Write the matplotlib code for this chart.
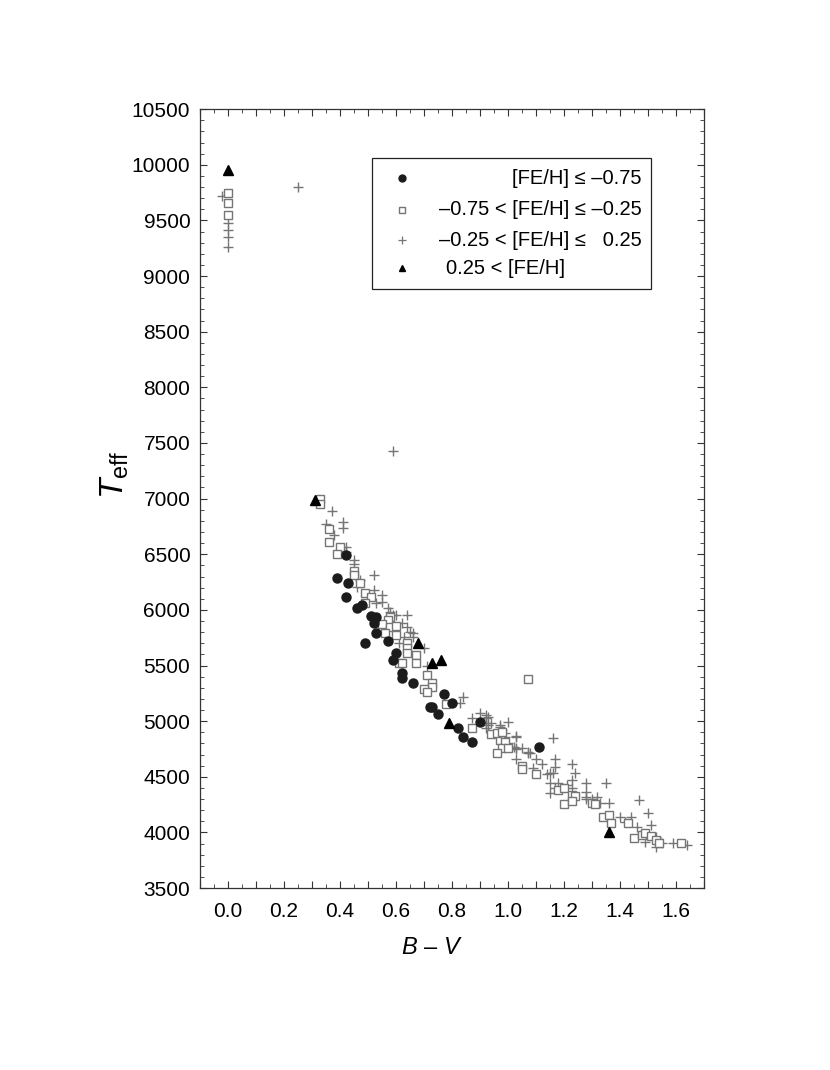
import matplotlib
matplotlib.use('Agg')
import matplotlib.pyplot as plt
import matplotlib.ticker as ticker
import matplotlib.patches as patches
import numpy as np

plt.rcParams['font.family'] = ['Liberation Sans', 'DejaVu Sans']
plt.rcParams['mathtext.fontset'] = 'custom'
plt.rcParams['mathtext.rm'] = 'Liberation Sans'
plt.rcParams['mathtext.it'] = 'Liberation Sans:italic'

# [Fe/H] <= -0.75
poor_bv = [0.42, 0.39, 0.43, 0.42, 0.46, 0.48, 0.51, 0.53, 0.52, 0.53, 0.57, 0.49, 0.60, 0.59,
           0.62, 0.62, 0.66, 0.77, 0.80, 0.72, 0.73, 0.75, 0.82, 0.84, 0.87, 0.90, 1.11]
poor_t = [6490, 6285, 6240, 6115, 6015, 6045, 5944, 5935, 5880, 5790, 5720, 5700, 5610, 5550,
          5430, 5387, 5342, 5243, 5162, 5126, 5126, 5063, 4937, 4857, 4812, 4992, 4767]

# -0.75 < [Fe/H] <= -0.25
mid_bv = [0.00, 0.00, 0.00, 1.07, 0.33, 0.33, 0.36, 0.36, 0.40, 0.39, 0.45, 0.45, 0.47, 0.49,
          0.51, 0.49, 0.58, 0.57, 0.55, 0.58, 0.60, 0.56, 0.60, 0.64, 0.64, 0.64, 0.67, 0.61,
          0.62, 0.67, 0.71, 0.73, 0.73, 0.70, 0.71, 0.78, 0.87, 0.94, 0.97, 0.99, 0.98, 1.00,
          0.96, 0.96, 0.98, 1.05, 1.05, 1.10, 1.18, 1.20, 1.23, 1.24, 1.20, 1.23, 1.30, 1.31,
          1.34, 1.36, 1.37, 1.43, 1.45, 1.48, 1.49, 1.51, 1.53, 1.54, 1.62]
mid_t = [9750, 9660, 9550, 5378, 7000, 6950, 6725, 6610, 6565, 6500, 6350, 6310, 6240, 6150,
         6115, 6060, 5935, 5908, 5872, 5845, 5854, 5790, 5773, 5700, 5656, 5610, 5595, 5520,
         5520, 5520, 5414, 5342, 5306, 5288, 5261, 5153, 4937, 4883, 4830, 4812, 4758, 4758,
         4713, 4893, 4902, 4596, 4569, 4524, 4380, 4398, 4335, 4327, 4255, 4282, 4264, 4255,
         4138, 4156, 4084, 4084, 3950, 3976, 3994, 3967, 3931, 3904, 3904]

# -0.25 < [Fe/H] <= 0.25
solar_bv = [-0.02, 0.00, 0.00, 0.00, 0.00, 0.25, 0.59,
            0.37, 0.35, 0.41, 0.41, 0.38, 0.42, 0.42, 0.45, 0.45, 0.52, 0.47, 0.46, 0.52,
            0.55, 0.53, 0.55, 0.57, 0.58, 0.59, 0.60, 0.64, 0.62, 0.64, 0.65, 0.66, 0.61,
            0.63, 0.66, 0.70, 0.71, 0.84, 0.83, 0.87, 0.90, 0.92, 0.92, 0.92, 0.94, 0.97,
            1.00, 0.98, 0.99, 1.03, 1.16, 1.03, 1.07, 1.08, 0.93, 0.97, 0.93, 0.92, 0.99,
            1.00, 1.03, 1.02, 1.03, 1.05, 1.07, 1.03, 1.10, 1.12, 1.17, 1.17, 1.16, 1.23,
            1.24, 1.09, 1.14, 1.15, 1.15, 1.18, 1.21, 1.23, 1.15, 1.17, 1.23, 1.28, 1.28,
            1.28, 1.35, 1.28, 1.30, 1.32, 1.33, 1.36, 1.40, 1.42, 1.44, 1.47, 1.46, 1.50,
            1.51, 1.49, 1.53, 1.53, 1.55, 1.59, 1.64]
solar_t = [9717, 9475, 9412, 9349, 9259, 9800, 7426,
           6887, 6770, 6790, 6735, 6670, 6565, 6520, 6447, 6410, 6310, 6267, 6204, 6177,
           6133, 6060, 6070, 6015, 5980, 5953, 5953, 5953, 5880, 5845, 5800, 5790, 5700,
           5755, 5755, 5656, 5500, 5216, 5162, 5027, 5072, 5054, 5027, 4983, 4983, 4947,
           4992, 4920, 4893, 4866, 4848, 4758, 4722, 4713, 5036, 4965, 4965, 4937, 4857,
           4803, 4857, 4767, 4749, 4758, 4713, 4659, 4659, 4614, 4659, 4587, 4533, 4614,
           4533, 4578, 4524, 4533, 4443, 4443, 4425, 4470, 4354, 4398, 4398, 4443, 4363,
           4318, 4443, 4300, 4300, 4318, 4264, 4264, 4138, 4093, 4138, 4290, 4048, 4174,
           4066, 3913, 3958, 3868, 3904, 3904, 3886]

# 0.25 < [Fe/H]
rich_bv = [0.00, 0.31, 0.68, 0.73, 0.76, 0.79, 1.36]
rich_t = [9950, 6990, 5700, 5520, 5550, 4983, 4003]

legend_labels = ['[FE/H] \u2264 \u20130.75',
                 '\u20130.75 < [FE/H] \u2264 \u20130.25',
                 '\u20130.25 < [FE/H] \u2264   0.25',
                 '0.25 < [FE/H]']

gray = '#757575'
dark = '#1c1c1c'

fig = plt.figure(figsize=(8.3, 10.7), dpi=100)
ax = fig.add_axes([0.241, 0.170, 0.607, 0.728])

ax.plot(solar_bv, solar_t, linestyle='none', marker='+', ms=7.5, mew=1.0, color=gray, zorder=2)
ax.plot(mid_bv, mid_t, linestyle='none', marker='s', ms=6, mew=1.0, mfc='white', mec=gray, zorder=3)
ax.plot(poor_bv, poor_t, linestyle='none', marker='o', ms=6.5, color=dark, zorder=4)
ax.plot(rich_bv, rich_t, linestyle='none', marker='^', ms=6.5, color='black', zorder=5)

ax.set_xlim(-0.1, 1.7)
ax.set_ylim(3500, 10500)

ax.xaxis.set_major_locator(ticker.MultipleLocator(0.1))
ax.xaxis.set_minor_locator(ticker.MultipleLocator(0.05))
ax.xaxis.set_major_formatter(ticker.FuncFormatter(
    lambda v, p: '%.1f' % v if abs(round(v * 10)) % 2 == 0 and v > -0.05 else ''))
ax.yaxis.set_major_locator(ticker.MultipleLocator(500))
ax.yaxis.set_minor_locator(ticker.MultipleLocator(100))

ax.tick_params(which='both', direction='in', top=True, right=True, labelsize=15, color='#333333')
ax.tick_params(which='major', length=5)
ax.tick_params(which='minor', length=3)
ax.tick_params(axis='x', pad=10)
ax.tick_params(axis='y', pad=7)
for s in ax.spines.values():
    s.set_linewidth(0.9)
    s.set_color('#333333')

ax.set_xlabel('$B$ \u2013 $V$', fontsize=17)
ax.xaxis.set_label_coords(0.46, -0.063)
ax.set_ylabel(r'$T_{\rm eff}$', fontsize=24)
ax.yaxis.set_label_coords(-0.137, 0.531)

# legend box drawn by hand so the label text can be right-aligned
ax.add_patch(patches.Rectangle((0.341, 0.769), 0.554, 0.168, transform=ax.transAxes,
                               fill=False, lw=0.9, edgecolor='#222222', zorder=6))
rows = [0.911, 0.871, 0.832, 0.796]
styles = [dict(marker='o', ms=5, color=dark),
          dict(marker='s', ms=4.5, mfc='white', mec=gray, mew=1.0),
          dict(marker='+', ms=6, mew=0.9, color=gray),
          dict(marker='^', ms=5, color='black')]
for i, (yy, st) in enumerate(zip(rows, styles)):
    ax.plot([0.401], [yy], linestyle='none', transform=ax.transAxes, clip_on=False, zorder=7, **st)
    if i < 3:
        ax.text(0.876, yy, legend_labels[i], transform=ax.transAxes, ha='right', va='center',
                fontsize=14.5, zorder=7)
    else:
        ax.text(0.488, yy, legend_labels[i], transform=ax.transAxes, ha='left', va='center',
                fontsize=14.5, zorder=7)

fig.savefig('out.png', dpi=100)
